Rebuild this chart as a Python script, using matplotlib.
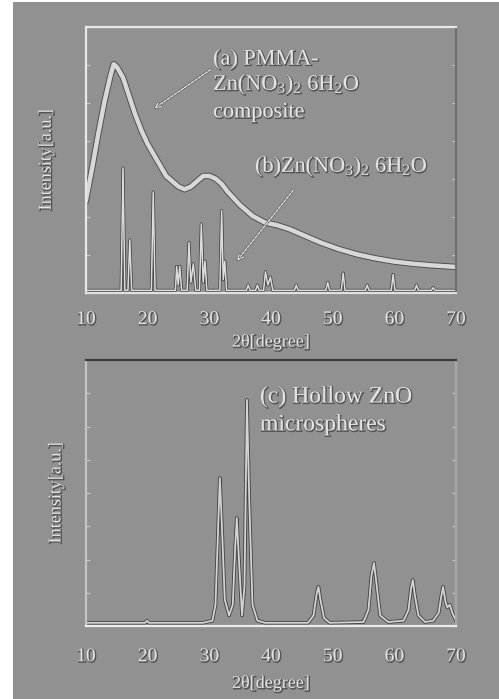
import matplotlib
matplotlib.use("Agg")
import matplotlib.pyplot as plt
import matplotlib.patheffects as pe
from matplotlib.patches import Rectangle

plt.rcParams["mathtext.fontset"] = "custom"
plt.rcParams["mathtext.rm"] = "Liberation Serif"
plt.rcParams["mathtext.it"] = "Liberation Serif:italic"

# (a) PMMA-Zn(NO3)2 6H2O composite, broad hump
xa = [10, 11, 12, 13, 14, 14.5, 15, 16, 17, 18, 19, 20, 21, 22, 23, 24, 25, 26, 27, 28,
      29, 30, 31, 32, 33, 35, 37, 39, 41, 43, 45, 48, 51, 54, 57, 60, 63, 66, 70]
ya = [0.35, 0.47, 0.60, 0.72, 0.82, 0.86, 0.85, 0.81, 0.74, 0.67, 0.61, 0.56, 0.52, 0.48, 0.44,
      0.42, 0.40, 0.39, 0.40, 0.42, 0.44, 0.44, 0.43, 0.41, 0.38, 0.33, 0.29, 0.265, 0.255, 0.24,
      0.22, 0.19, 0.165, 0.145, 0.13, 0.118, 0.11, 0.104, 0.098]

# (b) Zn(NO3)2 6H2O, sharp peaks
xb = [10.0, 15.7, 16.0, 16.3, 16.8, 17.1, 17.4, 20.6, 20.9, 21.2, 24.5, 24.7, 24.95, 25.2, 25.5,
      26.4, 26.7, 27.0, 27.4, 27.8, 28.4, 28.7, 29.0, 29.3, 29.6, 31.7, 32.0, 32.25, 32.5, 32.8,
      36.0, 36.3, 36.6, 37.5, 37.8, 38.1, 38.8, 39.1, 39.5, 39.9, 40.3, 43.8, 44.1, 44.4, 48.9,
      49.2, 49.5, 51.4, 51.7, 52.0, 55.3, 55.6, 55.9, 59.5, 59.8, 60.1, 63.3, 63.6, 63.9, 66.0,
      66.3, 66.6, 70.0]
yb = [0.01, 0.01, 0.47, 0.01, 0.01, 0.20, 0.01, 0.01, 0.38, 0.01, 0.01, 0.10, 0.03, 0.10, 0.01,
      0.01, 0.19, 0.04, 0.11, 0.01, 0.01, 0.26, 0.04, 0.12, 0.01, 0.01, 0.31, 0.05, 0.12, 0.01,
      0.01, 0.03, 0.01, 0.01, 0.03, 0.01, 0.01, 0.08, 0.03, 0.06, 0.01, 0.01, 0.03, 0.01, 0.01,
      0.04, 0.01, 0.01, 0.075, 0.01, 0.01, 0.03, 0.01, 0.01, 0.07, 0.01, 0.01, 0.03, 0.01, 0.01,
      0.02, 0.01, 0.01]

# (c) hollow ZnO microspheres
xc = [10, 19.6, 19.9, 20.2, 29, 30.5, 31.0, 31.4, 31.7, 32.0, 32.5, 33.2, 33.8, 34.2, 34.45,
      34.8, 35.3, 35.7, 36.1, 36.5, 37.0, 37.8, 39, 46, 46.9, 47.4, 47.7, 48.0, 48.6, 49.5,
      55, 55.8, 56.3, 56.7, 57.1, 57.7, 59, 61.5, 62.3, 62.7, 63.0, 63.3, 63.9, 65, 66.3,
      67.2, 67.6, 67.9, 68.3, 68.6, 69.0, 69.4, 70]
yc = [0.012, 0.012, 0.02, 0.012, 0.012, 0.02, 0.08, 0.35, 0.556, 0.40, 0.10, 0.04, 0.08, 0.30, 0.406,
      0.25, 0.04, 0.15, 0.85, 0.45, 0.08, 0.02, 0.012, 0.012, 0.04, 0.12, 0.147, 0.10, 0.03, 0.012,
      0.015, 0.06, 0.19, 0.237, 0.16, 0.04, 0.015, 0.02, 0.06, 0.14, 0.173, 0.12, 0.04, 0.015, 0.02,
      0.05, 0.11, 0.147, 0.09, 0.07, 0.08, 0.05, 0.02]

xticks = [10, 20, 30, 40, 50, 60, 70]
bg = "#919191"
light = "#e4e4e4"
dark = "#3a3a3a"
serif = "Liberation Serif"

txt_fx = [pe.Stroke(linewidth=1.0, foreground="#555555", offset=(0.6, -0.6)), pe.Normal()]

fig = plt.figure(figsize=(4.99, 6.99), dpi=100, facecolor="white")
fig.patches.append(Rectangle((13 / 499, 0), 1 - 13 / 499, 697 / 699,
                             transform=fig.transFigure, facecolor=bg, edgecolor="none", zorder=-5))

ax1 = fig.add_axes([86 / 499, 1 - 293 / 699, 370 / 499, 266 / 699])
ax2 = fig.add_axes([86 / 499, 1 - 626 / 699, 370 / 499, 266 / 699])


def style(ax, spine_cols, nyt, tpad, xpad, ypad):
    ax.set_facecolor(bg)
    ax.set_xlim(10, 70)
    ax.set_ylim(0, 1)
    ax.set_xticks(xticks)
    ax.set_xticklabels([str(t) for t in xticks], family=serif, fontsize=14, color=light)
    for lab in ax.get_xticklabels():
        lab.set_path_effects(txt_fx)
    ax.set_yticks([i / nyt for i in range(nyt + 1)])
    ax.set_yticklabels([])
    ax.tick_params(axis="x", direction="in", length=0, pad=tpad)
    ax.tick_params(axis="y", direction="in", length=3, color="#c8c8c8", right=True)
    for side, c in spine_cols.items():
        ax.spines[side].set_color(c)
        ax.spines[side].set_linewidth(1.6)
    ax.set_xlabel("2θ[degree]", family=serif, fontsize=13, color=light, labelpad=xpad,
                  path_effects=txt_fx)
    ax.set_ylabel("Intensity[a.u.]", family=serif, fontsize=13, color=light, labelpad=ypad,
                  path_effects=txt_fx)


style(ax1, {"top": "#e8e8e8", "left": "#e8e8e8", "right": "#707070", "bottom": "#e0e0e0"},
      7, 13, 4, 19)
style(ax2, {"top": dark, "left": "#c4c4c4", "right": "#a8a8a8", "bottom": "#ececec"},
      8, 16, 7, 12)

ax1.plot(xa, ya, color="#d8d8d8", lw=3.2,
         path_effects=[pe.Stroke(linewidth=4.6, foreground="#505050"), pe.Normal()])
ax1.plot(xb, yb, color="#dcdcdc", lw=1.1,
         path_effects=[pe.Stroke(linewidth=2.2, foreground="#404040"), pe.Normal()])
ax2.plot(xc, yc, color="#d4d4d4", lw=1.3,
         path_effects=[pe.Stroke(linewidth=2.6, foreground="#454545"), pe.Normal()])

ax1.text(30.6, 0.876, "(a) PMMA-", family=serif, fontsize=16, color=light,
         path_effects=txt_fx, va="center")
ax1.text(30.6, 0.782, r"Zn(NO$_\mathrm{3}$)$_\mathrm{2}$ 6H$_\mathrm{2}$O", family=serif,
         fontsize=16, color=light, path_effects=txt_fx, va="center")
ax1.text(30.6, 0.677, "composite", family=serif, fontsize=16, color=light,
         path_effects=txt_fx, va="center")
ax1.text(37.4, 0.474, r"(b)Zn(NO$_\mathrm{3}$)$_\mathrm{2}$ 6H$_\mathrm{2}$O", family=serif,
         fontsize=16, color=light, path_effects=txt_fx, va="center")

arrow_fx = [pe.Stroke(linewidth=1.8, foreground="#555555"), pe.Normal()]
ax1.annotate("", xy=(20.7, 0.688), xytext=(30.6, 0.846),
             arrowprops=dict(arrowstyle="->", color=light, lw=1.0, ls=(0, (2, 1)),
                             path_effects=arrow_fx))
ax1.annotate("", xy=(34.2, 0.113), xytext=(43.9, 0.395),
             arrowprops=dict(arrowstyle="->", color=light, lw=1.0, ls=(0, (2, 1)),
                             path_effects=arrow_fx))

ax2.text(38.2, 0.861, "(c) Hollow ZnO", family=serif, fontsize=17, color=light,
         path_effects=txt_fx, va="center")
ax2.text(38.2, 0.756, "microspheres", family=serif, fontsize=17, color=light,
         path_effects=txt_fx, va="center")

fig.savefig("out.png", dpi=100, facecolor="white")
